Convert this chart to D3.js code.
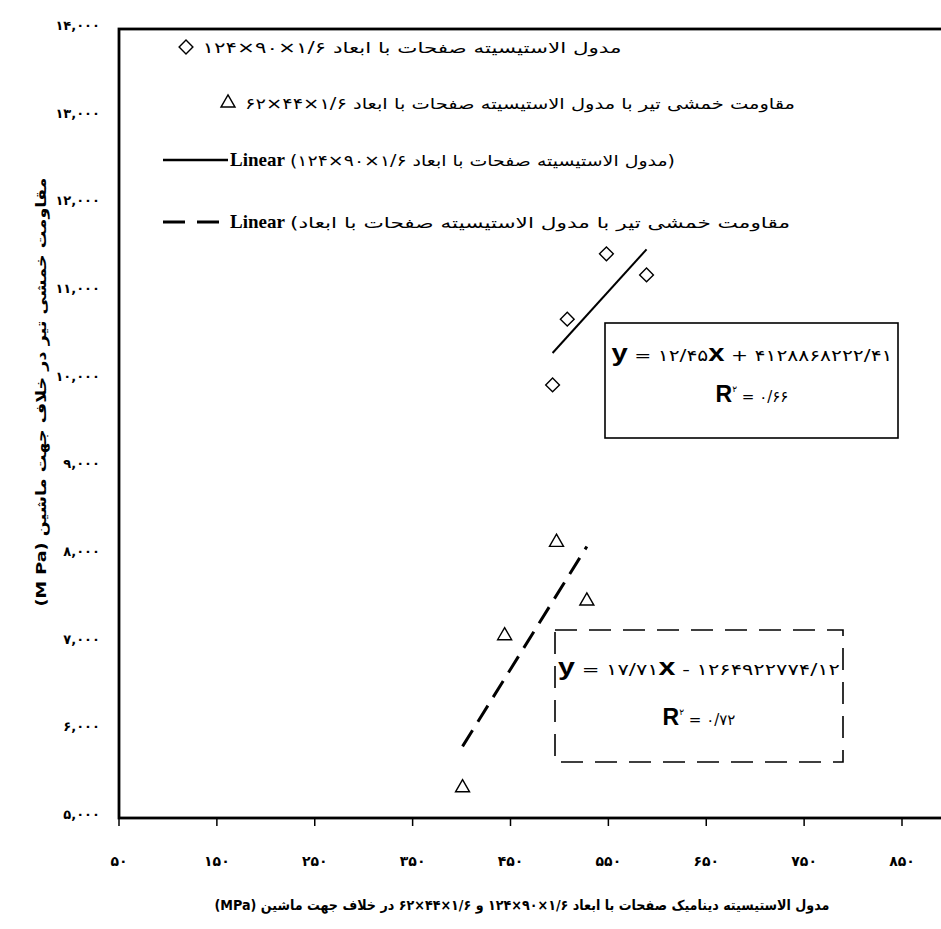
<!DOCTYPE html>
<html>
<head>
<meta charset="utf-8">
<script src="https://cdn.jsdelivr.net/npm/d3@7"></script>
<style>
body { margin: 0; background: #fff; }
text { fill: #000; }
</style>
</head>
<body>
<div id="chart"></div>
<script>
var width = 941;
var height = 929;

// series 1: plates 124x90x1.6 (diamonds)
var diamondX = [493, 508, 548, 589];
var diamondY = [9940, 10690, 11435, 11195];
// series 2: plates 62x44x1.6 (triangles)
var triangleX = [401, 444, 497, 528];
var triangleY = [5345, 7080, 8145, 7475];

var xTicks = [50, 150, 250, 350, 450, 550, 650, 750, 850];
var xTickLabels = ["۵۰", "۱۵۰", "۲۵۰", "۳۵۰", "۴۵۰", "۵۵۰", "۶۵۰", "۷۵۰", "۸۵۰"];
var yTicks = [5000, 6000, 7000, 8000, 9000, 10000, 11000, 12000, 13000, 14000];
var yTickLabels = ["۵,۰۰۰", "۶,۰۰۰", "۷,۰۰۰", "۸,۰۰۰", "۹,۰۰۰", "۱۰,۰۰۰", "۱۱,۰۰۰", "۱۲,۰۰۰", "۱۳,۰۰۰", "۱۴,۰۰۰"];

var legendNames = [
  "مدول الاستیسیته صفحات با ابعاد ۱/۶×۹۰×۱۲۴",
  "مقاومت خمشی تیر با مدول الاستیسیته صفحات با ابعاد ۱/۶×۴۴×۶۲",
  " (مدول الاستیسیته صفحات با ابعاد ۱/۶×۹۰×۱۲۴)",
  " (مقاومت خمشی تیر با مدول الاستیسیته صفحات با ابعاد"
];
var eqText = [" = ۱۲/۴۵", " + ۴۱۲۸۸۶۸۲۲۲/۴۱", " = ۱۷/۷۱", " - ۱۲۶۴۹۲۲۷۷۴/۱۲"];
var r2Text = [" = ۰/۶۶", " = ۰/۷۲"];
var xTitle = "مدول الاستیسیته دینامیک صفحات با ابعاد ۱/۶×۹۰×۱۲۴ و ۱/۶×۴۴×۶۲ در خلاف جهت ماشین (MPa)";
var yTitle = "مقاومت خمشی تیر در خلاف جهت ماشین (M Pa)";

var fa = "'DejaVu Sans', sans-serif";

var svg = d3.select("#chart").append("svg").attr("width", width).attr("height", height);

var x = d3.scaleLinear().domain([50, 850]).range([119, 902]);
var y = d3.scaleLinear().domain([5000, 14000]).range([818, 29]);

// frame
svg.append("rect").attr("x", 119).attr("y", 29).attr("width", 840).attr("height", 789)
  .attr("fill", "none").attr("stroke", "#000").attr("stroke-width", 2.8);

// x ticks
svg.selectAll(".xt").data(xTicks).enter().append("line")
  .attr("x1", function(d){ return x(d); }).attr("x2", function(d){ return x(d); })
  .attr("y1", 818).attr("y2", 826).attr("stroke", "#000").attr("stroke-width", 1.5);
svg.selectAll(".xl").data(xTicks).enter().append("text")
  .attr("x", function(d){ return x(d); }).attr("y", 866)
  .attr("text-anchor", "middle").attr("font-family", fa).attr("font-size", 14).attr("font-weight", "bold")
  .text(function(d, i){ return xTickLabels[i]; });

// y labels
svg.selectAll(".yl").data(yTicks).enter().append("text")
  .attr("x", 100).attr("y", function(d){ return y(d) + 1; })
  .attr("text-anchor", "end").attr("font-family", fa).attr("font-size", 13).attr("font-weight", "bold")
  .text(function(d, i){ return yTickLabels[i]; });

// titles
svg.append("text").attr("x", 522).attr("y", 910).attr("direction", "rtl")
  .attr("text-anchor", "middle").attr("font-family", fa).attr("font-size", 14).attr("font-weight", "bold")
  .attr("textLength", 615).attr("lengthAdjust", "spacingAndGlyphs")
  .text(xTitle);
svg.append("text").attr("transform", "translate(46,392) rotate(-90)").attr("direction", "rtl")
  .attr("text-anchor", "middle").attr("font-family", fa).attr("font-size", 14).attr("font-weight", "bold")
  .attr("textLength", 429).attr("lengthAdjust", "spacingAndGlyphs")
  .text(yTitle);

// trend lines from least squares
function fit(xs, ys) {
  var mx = d3.mean(xs), my = d3.mean(ys);
  var sxy = d3.sum(xs, function(v, i){ return (v - mx) * (ys[i] - my); });
  var sxx = d3.sum(xs, function(v){ return (v - mx) * (v - mx); });
  var b = sxy / sxx;
  var x0 = d3.min(xs), x1 = d3.max(xs);
  return [[x0, my + b * (x0 - mx)], [x1, my + b * (x1 - mx)]];
}
var line = d3.line().x(function(d){ return x(d[0]); }).y(function(d){ return y(d[1]); });
svg.append("path").datum(fit(diamondX, diamondY)).attr("d", line)
  .attr("stroke", "#000").attr("stroke-width", 2).attr("fill", "none");
svg.append("path").datum(fit(triangleX, triangleY)).attr("d", line)
  .attr("stroke", "#000").attr("stroke-width", 3).attr("stroke-dasharray", "19,10").attr("fill", "none");

// markers
var diamond = d3.symbol().type(d3.symbolSquare).size(95);
var tri = d3.symbol().type(d3.symbolTriangle).size(85);
svg.selectAll(".dm").data(diamondX).enter().append("path")
  .attr("d", diamond)
  .attr("transform", function(d, i){ return "translate(" + x(d) + "," + y(diamondY[i]) + ") rotate(45)"; })
  .attr("fill", "#fff").attr("stroke", "#000").attr("stroke-width", 1.4);
svg.selectAll(".tr").data(triangleX).enter().append("path")
  .attr("d", tri)
  .attr("transform", function(d, i){ return "translate(" + x(d) + "," + y(triangleY[i]) + ")"; })
  .attr("fill", "#fff").attr("stroke", "#000").attr("stroke-width", 1.4);

// legend
svg.append("path").attr("d", diamond).attr("transform", "translate(186,47) rotate(45)")
  .attr("fill", "#fff").attr("stroke", "#000").attr("stroke-width", 1.4);
svg.append("path").attr("d", tri).attr("transform", "translate(228,103)")
  .attr("fill", "#fff").attr("stroke", "#000").attr("stroke-width", 1.4);
svg.append("line").attr("x1", 163).attr("x2", 228).attr("y1", 160).attr("y2", 160)
  .attr("stroke", "#000").attr("stroke-width", 2.5);
svg.append("line").attr("x1", 163).attr("x2", 228).attr("y1", 222).attr("y2", 222)
  .attr("stroke", "#000").attr("stroke-width", 3).attr("stroke-dasharray", "22,12");

svg.append("text").attr("x", 412).attr("y", 53).attr("direction", "rtl").attr("text-anchor", "middle")
  .attr("font-family", fa).attr("font-size", 15).attr("textLength", 419).attr("lengthAdjust", "spacingAndGlyphs")
  .text(legendNames[0]);
svg.append("text").attr("x", 520).attr("y", 109).attr("direction", "rtl").attr("text-anchor", "middle")
  .attr("font-family", fa).attr("font-size", 15).attr("textLength", 550).attr("lengthAdjust", "spacingAndGlyphs")
  .text(legendNames[1]);

[[160, legendNames[2], 385], [222, legendNames[3], 500]].forEach(function(r) {
  svg.append("text").attr("x", 230).attr("y", r[0] + 6)
    .attr("font-family", "'Liberation Serif', serif").attr("font-size", 19).attr("font-weight", "bold")
    .text("Linear");
  svg.append("text").attr("x", 290).attr("y", r[0] + 6)
    .attr("font-family", fa).attr("font-size", 15).attr("textLength", r[2]).attr("lengthAdjust", "spacingAndGlyphs")
    .text(r[1]);
});

// equation boxes
svg.append("rect").attr("x", 605).attr("y", 323).attr("width", 293).attr("height", 115)
  .attr("fill", "#fff").attr("stroke", "#000").attr("stroke-width", 1.6);
svg.append("rect").attr("x", 555).attr("y", 630).attr("width", 288).attr("height", 132)
  .attr("fill", "#fff").attr("stroke", "#000").attr("stroke-width", 1.6).attr("stroke-dasharray", "22,12");

function equation(cx, cy, cy2, w, k) {
  var t = svg.append("text").attr("x", cx).attr("y", cy).attr("text-anchor", "middle").attr("direction", "ltr")
    .attr("textLength", w).attr("lengthAdjust", "spacingAndGlyphs");
  t.append("tspan").attr("font-family", "'Liberation Sans', Arial").attr("font-weight", "bold").attr("font-size", 23).text("y");
  t.append("tspan").attr("font-family", fa).attr("font-size", 16).text(eqText[k * 2]);
  t.append("tspan").attr("font-family", "'Liberation Sans', Arial").attr("font-weight", "bold").attr("font-size", 23).text("x");
  t.append("tspan").attr("font-family", fa).attr("font-size", 16).text(eqText[k * 2 + 1]);
  var r = svg.append("text").attr("x", cx).attr("y", cy2).attr("text-anchor", "middle").attr("direction", "ltr");
  r.append("tspan").attr("font-family", "'Liberation Sans', Arial").attr("font-weight", "bold").attr("font-size", 23).text("R");
  r.append("tspan").attr("font-family", fa).attr("font-size", 9).attr("dy", -10).text("۲");
  r.append("tspan").attr("font-family", fa).attr("font-size", 15).attr("dy", 10).text(r2Text[k]);
}
equation(752, 361, 402, 281, 0);
equation(699, 675, 725, 282, 1);
</script>
</body>
</html>
